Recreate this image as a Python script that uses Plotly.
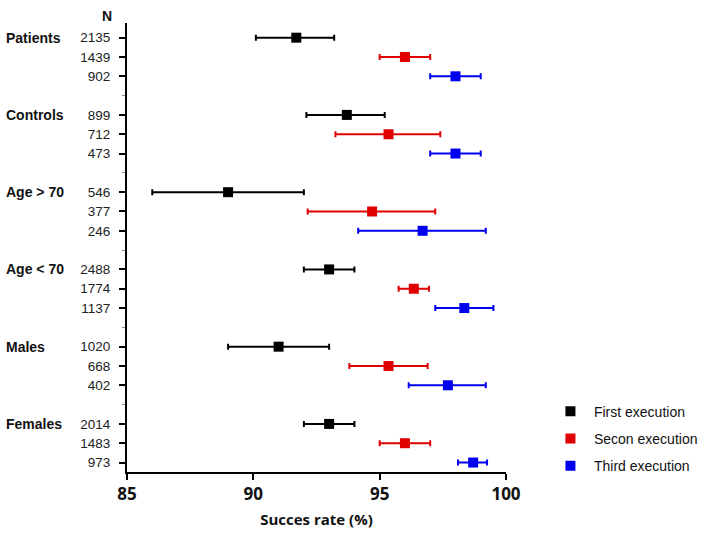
import plotly.graph_objects as go

groups = ["Patients", "Controls", "Age > 70", "Age < 70", "Males", "Females"]
series = ["First execution", "Secon execution", "Third execution"]
colors = ["#000000", "#e00000", "#0000f0"]

# N per group, per execution
n_first = [2135, 899, 546, 2488, 1020, 2014]
n_second = [1439, 712, 377, 1774, 668, 1483]
n_third = [902, 473, 246, 1137, 402, 973]

# success rate and CI bounds
rate_first = [91.7, 93.7, 89.0, 93.0, 91.0, 93.0]
low_first = [90.1, 92.1, 86.0, 92.0, 89.0, 92.0]
high_first = [93.2, 95.2, 92.0, 94.0, 93.0, 94.0]

rate_second = [96.0, 95.35, 94.7, 96.35, 95.35, 96.0]
low_second = [95.0, 93.25, 92.15, 95.75, 93.8, 95.0]
high_second = [97.0, 97.4, 97.2, 96.95, 96.9, 97.0]

rate_third = [98.0, 98.0, 96.7, 98.35, 97.7, 98.7]
low_third = [97.0, 97.0, 94.15, 97.2, 96.15, 98.1]
high_third = [99.0, 99.0, 99.2, 99.5, 99.2, 99.25]

x_ticks = [85, 90, 95, 100]

rates = [rate_first, rate_second, rate_third]
lows = [low_first, low_second, low_third]
highs = [high_first, high_second, high_third]
ns = [n_first, n_second, n_third]

fig = go.Figure()
tickvals, ticktext = [], []
for s in range(3):
    ys = [g * 4 + s for g in range(len(groups))]
    for g in range(len(groups)):
        tickvals.append(ys[g])
        ticktext.append(str(ns[s][g]))
    fig.add_trace(go.Scatter(
        x=rates[s], y=ys, mode="markers", name=series[s],
        legendgroup=series[s],
        marker=dict(symbol="square", size=10, color=colors[s]),
        error_x=dict(type="data", symmetric=False,
                     array=[h - r for h, r in zip(highs[s], rates[s])],
                     arrayminus=[r - l for r, l in zip(rates[s], lows[s])],
                     color=colors[s], thickness=2, width=3),
    ))

for g, name in enumerate(groups):
    fig.add_annotation(x=0, xref="paper", xanchor="left", xshift=-123,
                       y=g * 4, yref="y", text="<b>" + name + "</b>",
                       showarrow=False,
                       font=dict(family="Liberation Sans, Arial", size=14, color="#111"))

fig.add_annotation(x=0, xref="paper", xanchor="center", xshift=-20,
                   y=1, yref="paper", yanchor="bottom", yshift=-3, text="<b>N</b>",
                   showarrow=False,
                   font=dict(family="Liberation Sans, Arial", size=14, color="#111"))

fig.update_layout(
    width=707, height=537,
    paper_bgcolor="white", plot_bgcolor="white",
    margin=dict(l=127, r=201, t=23, b=65, autoexpand=False),
    showlegend=True,
    legend=dict(x=1.108, y=0.17, xanchor="left", yanchor="top",
                font=dict(family="Liberation Sans, Arial", size=14, color="#111"),
                itemwidth=37,
                tracegroupgap=6, bgcolor="rgba(0,0,0,0)"),
    xaxis=dict(range=[85, 100], tickvals=x_ticks, ticks="outside", ticklen=6,
               tickwidth=2, tickcolor="black", showline=True, linecolor="black",
               linewidth=2, showgrid=False, zeroline=False, automargin=False,
               tickfont=dict(family="Open Sans, Arial", size=17, color="#111", weight="bold"),
               title=dict(text="<b>Succes rate (%)</b>", standoff=10,
                          font=dict(family="Open Sans, Arial", size=15, color="#111"))),
    yaxis=dict(range=[22.49, -0.76], tickvals=tickvals, ticktext=ticktext,
               ticks="outside", ticklen=6, tickwidth=2, tickcolor="black",
               showline=True, linecolor="black", linewidth=2,
               showgrid=False, zeroline=False, automargin=False,
               ticklabelstandoff=6,
               tickfont=dict(family="Liberation Sans, Arial", size=13.5, color="#222"),
               minor=dict(tickvals=[3, 7, 11, 15, 19], ticks="outside", ticklen=3,
                          tickwidth=1, tickcolor="#888")),
)

fig.write_html("out.html", post_script="document.body.style.margin='0';",
               config={"displayModeBar": False})
